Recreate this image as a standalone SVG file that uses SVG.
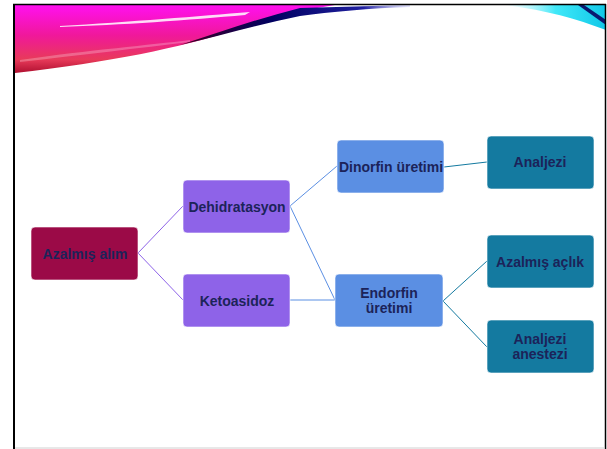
<svg xmlns="http://www.w3.org/2000/svg" width="607" height="449" viewBox="0 0 607 449">
<defs>
<linearGradient id="mag" x1="0" y1="0" x2="0" y2="1">
<stop offset="0" stop-color="#FF10F0"/>
<stop offset="0.45" stop-color="#F0189A"/>
<stop offset="0.8" stop-color="#E83A5A"/>
<stop offset="1" stop-color="#B01030"/>
</linearGradient>
<linearGradient id="navy" x1="0" y1="0" x2="1" y2="0">
<stop offset="0" stop-color="#400020"/>
<stop offset="0.4" stop-color="#000060"/>
<stop offset="0.8" stop-color="#2020A0"/>
<stop offset="1" stop-color="#A0A0F0" stop-opacity="0.3"/>
</linearGradient>
<linearGradient id="cyan" x1="0" y1="0" x2="1" y2="0">
<stop offset="0" stop-color="#E0FAFF" stop-opacity="0.3"/>
<stop offset="0.5" stop-color="#40E8F8"/>
<stop offset="1" stop-color="#10C8E8"/>
</linearGradient>
<style>
.n rect{stroke:#ffffff;stroke-opacity:0.6;stroke-width:1}
.n text{font-family:"Liberation Sans",Arial,sans-serif;font-weight:bold;font-size:14px;fill:#1C2359;text-anchor:middle}
.c1{fill:#9B0A47}
.c2{fill:#8E63E8}
.c3{fill:#5B8FE3}
.c4{fill:#147AA0}
#connectors line{stroke-width:1;fill:none}
.l2{stroke:#8E63E8}
.l3{stroke:#5B8FE3}
.l4{stroke:#147AA0}
</style>
</defs>
<rect x="0" y="0" width="607" height="449" fill="#ffffff"/>
<g id="banner">
<path d="M15,5 L335,5 C300,10 265,20 235,30 C180,48 110,62 15,73 Z" fill="url(#mag)"/>
<path d="M60,26 C130,22 200,16 250,12 L245,15 C190,20 120,25 60,27 Z" fill="#ffffff" opacity="0.85"/>
<path d="M20,60 C90,50 150,45 190,40 L190,42 C140,48 80,55 20,62 Z" fill="#ffffff" opacity="0.25"/>
<path d="M180,45 C220,32 260,18 300,8 L410,5 L410,7 C370,8 330,12 300,16 C260,24 220,36 180,45 Z" fill="url(#navy)"/>
<path d="M505,5 L606,5 L606,30 C575,18 545,10 505,5 Z" fill="url(#cyan)"/>
<path d="M578,5 L584,5 L606,20 L606,25 Z" fill="#0A1870"/>
</g>
<g id="frame" fill="none">
<line x1="14" y1="4" x2="14" y2="449" stroke="#000000" stroke-width="2"/>
<line x1="13" y1="4.5" x2="606" y2="4.5" stroke="#000000" stroke-width="1.5"/>
<line x1="605.5" y1="4" x2="605.5" y2="449" stroke="#000000" stroke-width="1.5"/>
<line x1="15" y1="448" x2="605" y2="448" stroke="#d0d0d0" stroke-width="1"/>
</g>
<g id="connectors">
<line class="l2" x1="138" y1="253" x2="183" y2="206"/>
<line class="l2" x1="138" y1="253" x2="183" y2="300"/>
<line class="l3" x1="290" y1="206" x2="337" y2="166"/>
<line class="l3" x1="290" y1="206" x2="335" y2="300"/>
<line class="l3" x1="290" y1="300" x2="335" y2="300"/>
<line class="l4" x1="444" y1="167" x2="487" y2="162"/>
<line class="l4" x1="443" y1="301" x2="487" y2="261"/>
<line class="l4" x1="443" y1="301" x2="487" y2="347"/>
</g>
<g id="azalmis-alim" class="n"><rect class="c1" x="31" y="227" width="107" height="53" rx="4"/><text x="85" y="259">Azalmış alım</text></g>
<g id="dehidratasyon" class="n"><rect class="c2" x="183" y="180" width="107" height="53" rx="4"/><text x="237" y="212">Dehidratasyon</text></g>
<g id="ketoasidoz" class="n"><rect class="c2" x="183" y="274" width="107" height="53" rx="4"/><text x="237" y="306">Ketoasidoz</text></g>
<g id="dinorfin" class="n"><rect class="c3" x="337" y="140" width="107" height="53" rx="4"/><text x="391" y="172">Dinorfin üretimi</text></g>
<g id="endorfin" class="n"><rect class="c3" x="335" y="274" width="108" height="53" rx="4"/><text x="389" y="298">Endorfin</text><text x="389" y="313">üretimi</text></g>
<g id="analjezi" class="n"><rect class="c4" x="487" y="136" width="107" height="53" rx="4"/><text x="540" y="167">Analjezi</text></g>
<g id="azalmis-aclik" class="n"><rect class="c4" x="487" y="235" width="107" height="53" rx="4"/><text x="540" y="267">Azalmış açlık</text></g>
<g id="analjezi-anestezi" class="n"><rect class="c4" x="487" y="320" width="107" height="53" rx="4"/><text x="540" y="344">Analjezi</text><text x="540" y="359">anestezi</text></g>
</svg>
